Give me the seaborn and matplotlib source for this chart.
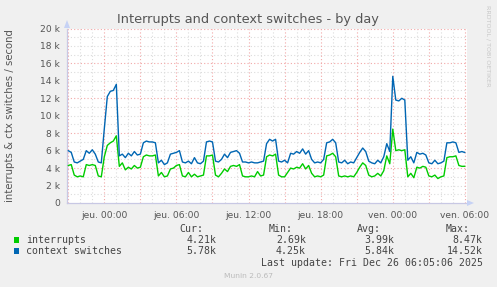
import numpy as np
import pandas as pd
import matplotlib
matplotlib.use("Agg")
import matplotlib.pyplot as plt
from matplotlib.patches import Polygon, Rectangle
import seaborn as sns

# ---------------- data (values in thousands per second) ----------------
# time in hours relative to Thursday 00:00, 15 minute steps
hours_start = -3.0
hours_step = 0.25

interrupts = [
    4.3, 4.4, 3.2, 3.0,
    3.1, 3.0, 4.4, 4.3,
    4.4, 4.3, 3.1, 3.0,
    5.3, 6.6, 6.9, 7.1,
    7.7, 4.2, 4.6, 3.8,
    4.1, 3.9, 4.3, 4.0,
    4.1, 5.3, 5.5, 5.4,
    5.4, 5.5, 3.1, 3.5,
    3.0, 3.1, 3.9, 4.0,
    4.3, 4.4, 3.1, 3.0,
    3.5, 3.0, 3.3, 3.0,
    3.1, 3.2, 5.4, 5.4,
    5.5, 3.2, 3.0, 3.4,
    3.9, 3.6, 4.2, 4.3,
    4.2, 4.4, 3.1, 3.0,
    3.0, 3.1, 3.0, 3.6,
    3.1, 3.2, 5.3, 5.5,
    5.4, 5.6, 3.2, 3.0,
    3.0, 3.5, 4.0, 3.9,
    4.1, 4.0, 4.5, 3.9,
    4.3, 3.4, 3.0, 3.1,
    3.0, 3.2, 5.4, 5.5,
    5.7, 5.3, 3.1, 3.0,
    3.1, 3.0, 3.1, 3.0,
    3.5, 4.1, 4.6, 4.3,
    3.2, 3.0, 3.1, 3.4,
    3.1, 3.7, 5.4, 4.5,
    8.47, 6.0, 6.1, 6.0,
    6.1, 3.0, 3.4, 2.9,
    4.1, 4.0, 4.2, 4.1,
    3.1, 3.0, 3.2, 2.8,
    3.0, 3.1, 5.2, 5.3,
    5.3, 5.4, 4.3, 4.2,
    4.21,
]

context_switches = [
    6.0, 5.8, 4.7, 4.6,
    4.8, 5.0, 6.0, 5.7,
    6.1, 5.6, 4.7, 4.6,
    8.5, 12.2, 12.8, 12.9,
    13.6, 5.4, 5.6, 5.2,
    5.7, 5.4, 5.9, 5.5,
    5.6, 6.9, 7.1, 7.0,
    7.0, 6.9, 4.6, 4.9,
    4.4, 4.6, 5.6, 5.7,
    5.8, 6.0, 4.7, 4.6,
    4.8, 4.5, 5.2, 4.6,
    4.5, 4.8, 7.0, 7.1,
    7.0, 4.8, 4.7, 5.0,
    5.6, 5.2, 5.8, 5.9,
    6.0, 5.7, 4.7, 4.7,
    4.6, 4.7, 4.6, 4.6,
    4.7, 4.8, 6.8, 7.3,
    7.1, 7.3, 4.8, 4.7,
    4.9, 4.6, 5.7, 5.6,
    5.9, 5.7, 6.2, 5.6,
    6.0, 5.0, 4.6, 4.7,
    4.6, 5.0, 6.9, 7.0,
    7.3, 6.9, 4.7, 4.6,
    4.9, 4.5, 4.7, 4.6,
    5.2, 5.8, 6.3, 5.9,
    4.8, 4.6, 4.5, 4.9,
    4.6, 5.3, 6.8, 5.9,
    14.52, 11.8, 11.7, 12.0,
    11.8, 4.9, 5.3, 4.6,
    5.8, 5.6, 5.7, 5.5,
    4.6, 4.5, 4.9, 4.5,
    4.6, 4.8, 6.9, 6.9,
    7.0, 6.9, 5.8, 5.9,
    5.78,
]

series_names = ["interrupts", "context switches"]
series_colors = ["#00CC00", "#0066B3"]

x_tick_hours = [0, 6, 12, 18, 24, 30]
x_tick_labels = ["jeu. 00:00", "jeu. 06:00", "jeu. 12:00", "jeu. 18:00",
                 "ven. 00:00", "ven. 06:00"]
y_tick_values = [0, 2, 4, 6, 8, 10, 12, 14, 16, 18, 20]
y_tick_labels = ["0", "2 k", "4 k", "6 k", "8 k", "10 k", "12 k", "14 k",
                 "16 k", "18 k", "20 k"]

stat_headers = ["Cur:", "Min:", "Avg:", "Max:"]
stats_interrupts = ["4.21k", "2.69k", "3.99k", "8.47k"]
stats_ctx = ["5.78k", "4.25k", "5.84k", "14.52k"]

title = "Interrupts and context switches - by day"
ylabel = "interrupts & ctx switches / second"
last_update = "Last update: Fri Dec 26 06:05:06 2025"
footer = "Munin 2.0.67"
side_text = "RRDTOOL / TOBI OETIKER"

# ---------------- build frame ----------------
n = len(interrupts)
hours = [hours_start + i * hours_step for i in range(n)]
df = pd.DataFrame({
    "hour": hours * 2,
    "value": interrupts + context_switches,
    "series": [series_names[0]] * n + [series_names[1]] * n,
})

# ---------------- figure ----------------
sns.set_style("white")
plt.rcParams["font.family"] = ["DejaVu Sans"]

W, H = 497, 287
BG = "#F0F0F0"
fig = plt.figure(figsize=(W / 100, H / 100), dpi=100, facecolor=BG)

def fx(x):
    return x / W

def fy(y):
    return 1 - y / H

left, right, top, bottom = 67, 467, 28.5, 203
ax = fig.add_axes([fx(left), fy(bottom), (right - left) / W, (bottom - top) / H])
ax.set_facecolor("white")

x0 = (left - 104.3) / 12.02
x1 = (right - 104.3) / 12.02
ax.set_xlim(x0, x1)
ax.set_ylim(0, 20)

# grid
minor_col = "#DCDCDC"
major_col = "#F2A8A8"
for yv in np.arange(1, 20.5, 1):
    if yv % 4 != 0:
        ax.axhline(yv, color=minor_col, lw=0.8, ls=(0, (1, 2)), zorder=0)
for yv in np.arange(4, 20.5, 4):
    ax.axhline(yv, color=major_col, lw=0.8, ls=(0, (1, 2)), zorder=0.5)
for xv in np.arange(-3, 31, 1):
    if xv % 3 != 0:
        ax.axvline(xv, color=minor_col, lw=0.8, ls=(0, (1, 2)), zorder=0)
for xv in np.arange(-3, 31, 3):
    ax.axvline(xv, color=major_col, lw=0.8, ls=(0, (1, 2)), zorder=0.5)

sns.lineplot(data=df, x="hour", y="value", hue="series",
             palette=dict(zip(series_names, series_colors)),
             hue_order=series_names, linewidth=1.0, ax=ax, legend=False,
             zorder=3)

ax.set_xlabel("")
ax.set_ylabel("")

for s in ["top", "right"]:
    ax.spines[s].set_visible(False)
for s in ["left", "bottom"]:
    ax.spines[s].set_color("#C8C8E4")
    ax.spines[s].set_linewidth(0.9)

ax.set_xticks(x_tick_hours)
ax.set_xticklabels(x_tick_labels)
ax.set_xticks(np.arange(-3, 31, 3), minor=True)
ax.set_yticks(y_tick_values)
ax.set_yticklabels(y_tick_labels)
ax.tick_params(axis="x", which="both", length=2.5, width=0.7, color="#F08080",
               labelsize=6.6, labelcolor="#555555", pad=3.2)
ax.tick_params(axis="y", which="major", length=2.5, width=0.7, color="#F08080",
               labelsize=6.6, labelcolor="#555555", pad=2.5)

# axis arrows
arrow_col = "#C6D2F5"
fig.patches.append(Polygon([[fx(64), fy(28)], [fx(70), fy(28)], [fx(67), fy(20)]],
                           closed=True, transform=fig.transFigure,
                           facecolor=arrow_col, edgecolor="none"))
fig.patches.append(Polygon([[fx(467), fy(200)], [fx(467), fy(206)], [fx(474), fy(203)]],
                           closed=True, transform=fig.transFigure,
                           facecolor=arrow_col, edgecolor="none"))

# texts
fig.text(fx(248), fy(19), title, ha="center", va="center", fontsize=9.3,
         color="#555555")
fig.text(fx(10), fy(116), ylabel, ha="center", va="center", rotation=90,
         fontsize=7.3, color="#555555")
fig.text(fx(488), fy(5), side_text, ha="center", va="top", rotation=270,
         fontsize=4.6, color="#C8C8C8")

mono = "DejaVu Sans Mono"
fs = 7.1
tcol = "#444444"
header_right = [203, 293, 381, 470]
value_right = [216.7, 306, 394, 482.7]
for h, xr in zip(stat_headers, header_right):
    fig.text(fx(xr), fy(228.5), h, ha="right", va="center", family=mono,
             fontsize=fs, color=tcol)
rows = [(series_names[0], series_colors[0], stats_interrupts, 240),
        (series_names[1], series_colors[1], stats_ctx, 251)]
for name, col, vals, yy in rows:
    fig.patches.append(Rectangle((fx(14), fy(yy + 2.7)), 5.4 / W, 5.4 / H,
                                 transform=fig.transFigure, facecolor=col,
                                 edgecolor="none"))
    fig.text(fx(26.5), fy(yy), name, ha="left", va="center", family=mono,
             fontsize=fs, color=tcol)
    for v, xr in zip(vals, value_right):
        fig.text(fx(xr), fy(yy), v, ha="right", va="center", family=mono,
                 fontsize=fs, color=tcol)
fig.text(fx(482.7), fy(263.5), last_update, ha="right", va="center",
         family=mono, fontsize=fs, color=tcol)
fig.text(fx(248), fy(276.5), footer, ha="center", va="center", fontsize=5.4,
         color="#BBBBBB")

fig.savefig("out.png", dpi=100, facecolor=BG)
